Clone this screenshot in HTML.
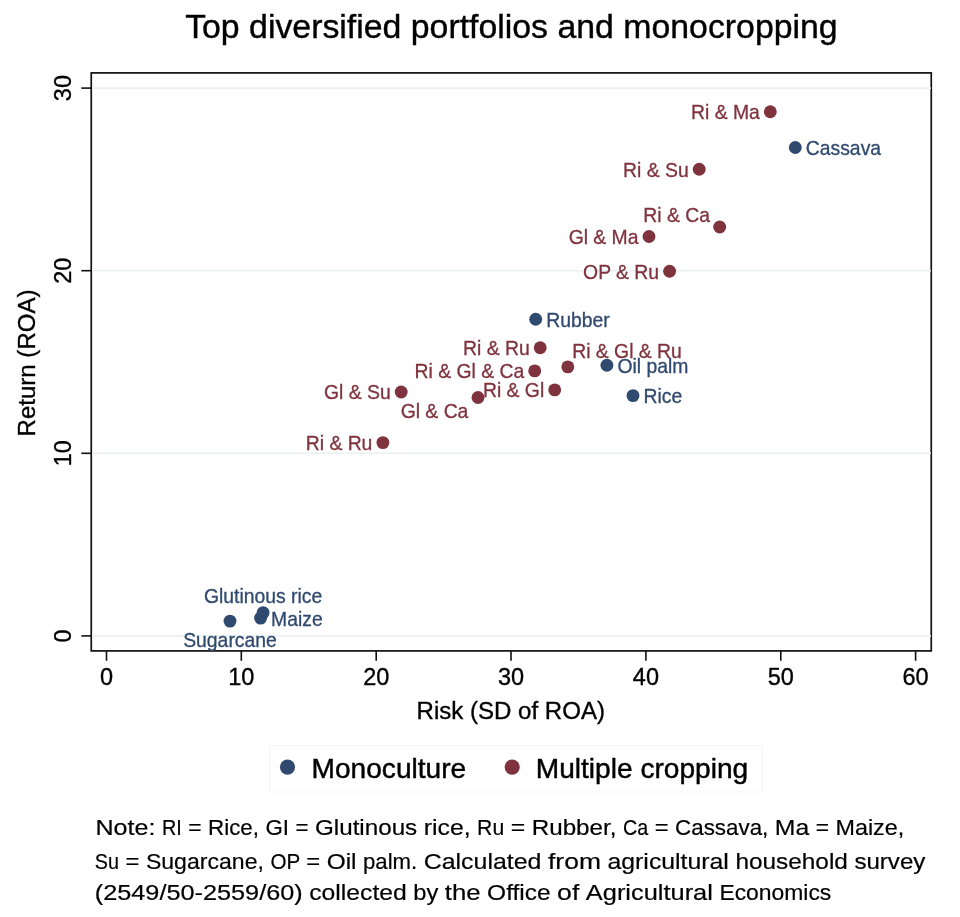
<!DOCTYPE html>
<html><head><meta charset="utf-8"><title>Top diversified portfolios and monocropping</title>
<style>
html,body{margin:0;padding:0;background:#fff}
svg{display:block}
text{font-family:"Liberation Sans",Arial,Helvetica,sans-serif}
</style></head><body>
<svg width="960" height="917" viewBox="0 0 960 917">
<rect width="960" height="917" fill="#fff"/>
<text x="511.4" y="38.3" text-anchor="middle" font-size="33.83" fill="#000" stroke="#000" stroke-width="0.4">Top diversified portfolios and monocropping</text>
<rect x="91.25" y="72.9" width="840" height="578" fill="none" stroke="#111" stroke-width="1.7"/>
<line x1="92.1" x2="931" y1="635.9" y2="635.9" stroke="#e9f0f2" stroke-width="1.6"/>
<line x1="92.1" x2="931" y1="453.3" y2="453.3" stroke="#e9f0f2" stroke-width="1.6"/>
<line x1="92.1" x2="931" y1="270.7" y2="270.7" stroke="#e9f0f2" stroke-width="1.6"/>
<line x1="92.1" x2="931" y1="88.1" y2="88.1" stroke="#e9f0f2" stroke-width="1.6"/>
<line x1="81.3" x2="91.3" y1="635.9" y2="635.9" stroke="#111" stroke-width="1.6"/>
<text transform="translate(71.3,635.9) rotate(-90)" text-anchor="middle" font-size="23.5" fill="#000" stroke="#000" stroke-width="0.35">0</text>
<line x1="81.3" x2="91.3" y1="453.3" y2="453.3" stroke="#111" stroke-width="1.6"/>
<text transform="translate(71.3,453.3) rotate(-90)" text-anchor="middle" font-size="23.5" fill="#000" stroke="#000" stroke-width="0.35">10</text>
<line x1="81.3" x2="91.3" y1="270.7" y2="270.7" stroke="#111" stroke-width="1.6"/>
<text transform="translate(71.3,270.7) rotate(-90)" text-anchor="middle" font-size="23.5" fill="#000" stroke="#000" stroke-width="0.35">20</text>
<line x1="81.3" x2="91.3" y1="88.1" y2="88.1" stroke="#111" stroke-width="1.6"/>
<text transform="translate(71.3,88.1) rotate(-90)" text-anchor="middle" font-size="23.5" fill="#000" stroke="#000" stroke-width="0.35">30</text>
<line x1="106.5" x2="106.5" y1="651" y2="660.8" stroke="#111" stroke-width="1.6"/>
<text x="106.5" y="684.8" text-anchor="middle" font-size="23.5" fill="#000" stroke="#000" stroke-width="0.35">0</text>
<line x1="241.3" x2="241.3" y1="651" y2="660.8" stroke="#111" stroke-width="1.6"/>
<text x="241.3" y="684.8" text-anchor="middle" font-size="23.5" fill="#000" stroke="#000" stroke-width="0.35">10</text>
<line x1="376.2" x2="376.2" y1="651" y2="660.8" stroke="#111" stroke-width="1.6"/>
<text x="376.2" y="684.8" text-anchor="middle" font-size="23.5" fill="#000" stroke="#000" stroke-width="0.35">20</text>
<line x1="511.0" x2="511.0" y1="651" y2="660.8" stroke="#111" stroke-width="1.6"/>
<text x="511.0" y="684.8" text-anchor="middle" font-size="23.5" fill="#000" stroke="#000" stroke-width="0.35">30</text>
<line x1="645.9" x2="645.9" y1="651" y2="660.8" stroke="#111" stroke-width="1.6"/>
<text x="645.9" y="684.8" text-anchor="middle" font-size="23.5" fill="#000" stroke="#000" stroke-width="0.35">40</text>
<line x1="780.8" x2="780.8" y1="651" y2="660.8" stroke="#111" stroke-width="1.6"/>
<text x="780.8" y="684.8" text-anchor="middle" font-size="23.5" fill="#000" stroke="#000" stroke-width="0.35">50</text>
<line x1="915.6" x2="915.6" y1="651" y2="660.8" stroke="#111" stroke-width="1.6"/>
<text x="915.6" y="684.8" text-anchor="middle" font-size="23.5" fill="#000" stroke="#000" stroke-width="0.35">60</text>
<text x="510.8" y="718.6" text-anchor="middle" font-size="24.05" fill="#000" stroke="#000" stroke-width="0.35">Risk (SD of ROA)</text>
<text transform="translate(34.6,363) rotate(-90)" text-anchor="middle" font-size="24.05" fill="#000" stroke="#000" stroke-width="0.35">Return (ROA)</text>
<g font-size="19.35" stroke-width="0.3">
<circle cx="795.3" cy="147.5" r="6.45" fill="#30496f" stroke="none"/><text x="805.8" y="154.9" fill="#30496f" stroke="#30496f">Cassava</text>
<circle cx="535.7" cy="319.3" r="6.45" fill="#30496f" stroke="none"/><text x="546.2" y="326.7" fill="#30496f" stroke="#30496f">Rubber</text>
<circle cx="606.9" cy="365.3" r="6.45" fill="#30496f" stroke="none"/><text x="617.4" y="372.7" fill="#30496f" stroke="#30496f">Oil palm</text>
<circle cx="633.0" cy="395.6" r="6.45" fill="#30496f" stroke="none"/><text x="643.5" y="403.0" fill="#30496f" stroke="#30496f">Rice</text>
<circle cx="260.6" cy="618.1" r="6.45" fill="#30496f" stroke="none"/><text x="271.1" y="625.5" fill="#30496f" stroke="#30496f">Maize</text>
<circle cx="263.1" cy="612.6" r="6.45" fill="#30496f" stroke="none"/><text x="263.1" y="602.6" text-anchor="middle" fill="#30496f" stroke="#30496f">Glutinous rice</text>
<circle cx="230.0" cy="621.1" r="6.45" fill="#30496f" stroke="none"/><text x="230.0" y="646.7" text-anchor="middle" fill="#30496f" stroke="#30496f">Sugarcane</text>
<circle cx="770.3" cy="111.8" r="6.45" fill="#7f333d" stroke="none"/><text x="759.8" y="119.2" text-anchor="end" fill="#7f333d" stroke="#7f333d">Ri &amp; Ma</text>
<circle cx="699.2" cy="169.3" r="6.45" fill="#7f333d" stroke="none"/><text x="688.7" y="176.7" text-anchor="end" fill="#7f333d" stroke="#7f333d">Ri &amp; Su</text>
<circle cx="719.7" cy="227.0" r="6.45" fill="#7f333d" stroke="none"/><text x="710.0" y="222.3" text-anchor="end" fill="#7f333d" stroke="#7f333d">Ri &amp; Ca</text>
<circle cx="649.0" cy="236.5" r="6.45" fill="#7f333d" stroke="none"/><text x="638.5" y="243.9" text-anchor="end" fill="#7f333d" stroke="#7f333d">Gl &amp; Ma</text>
<circle cx="669.6" cy="271.3" r="6.45" fill="#7f333d" stroke="none"/><text x="659.1" y="278.7" text-anchor="end" fill="#7f333d" stroke="#7f333d">OP &amp; Ru</text>
<circle cx="540.2" cy="347.8" r="6.45" fill="#7f333d" stroke="none"/><text x="529.7" y="355.2" text-anchor="end" fill="#7f333d" stroke="#7f333d">Ri &amp; Ru</text>
<circle cx="534.7" cy="370.9" r="6.45" fill="#7f333d" stroke="none"/><text x="524.2" y="378.3" text-anchor="end" fill="#7f333d" stroke="#7f333d">Ri &amp; Gl &amp; Ca</text>
<circle cx="567.8" cy="366.9" r="6.45" fill="#7f333d" stroke="none"/><text x="572.2" y="357.9" fill="#7f333d" stroke="#7f333d">Ri &amp; Gl &amp; Ru</text>
<circle cx="554.7" cy="389.9" r="6.45" fill="#7f333d" stroke="none"/><text x="544.2" y="397.3" text-anchor="end" fill="#7f333d" stroke="#7f333d">Ri &amp; Gl</text>
<circle cx="401.2" cy="392.0" r="6.45" fill="#7f333d" stroke="none"/><text x="390.7" y="399.4" text-anchor="end" fill="#7f333d" stroke="#7f333d">Gl &amp; Su</text>
<circle cx="478.0" cy="397.5" r="6.45" fill="#7f333d" stroke="none"/><text x="468.4" y="418.4" text-anchor="end" fill="#7f333d" stroke="#7f333d">Gl &amp; Ca</text>
<circle cx="382.9" cy="442.6" r="6.45" fill="#7f333d" stroke="none"/><text x="372.4" y="450.0" text-anchor="end" fill="#7f333d" stroke="#7f333d">Ri &amp; Ru</text>
</g>
<rect x="269.5" y="745.5" width="493" height="46.5" fill="#fff" stroke="#f3f5f5" stroke-width="1"/>
<circle cx="287.5" cy="767.1" r="7.6" fill="#30496f"/>
<circle cx="512.2" cy="767.1" r="7.6" fill="#7f333d"/>
<g font-size="28.1" fill="#000" stroke="#000" stroke-width="0.45">
<text x="311.6" y="777.8">Monoculture</text>
<text x="535.8" y="777.8">Multiple cropping</text>
</g>
<g font-size="22.8" fill="#000" stroke="#000" stroke-width="0.2">
<text y="835.4"><tspan x="95.4" textLength="60.0" lengthAdjust="spacingAndGlyphs">Note:</tspan> <tspan x="161.9" textLength="19.8" lengthAdjust="spacingAndGlyphs">RI</tspan> <tspan x="188.2" textLength="13.3" lengthAdjust="spacingAndGlyphs">=</tspan> <tspan x="208.0" textLength="51.0" lengthAdjust="spacingAndGlyphs">Rice,</tspan> <tspan x="265.5" textLength="23.5" lengthAdjust="spacingAndGlyphs">GI</tspan> <tspan x="295.5" textLength="13.0" lengthAdjust="spacingAndGlyphs">=</tspan> <tspan x="315.0" textLength="102.2" lengthAdjust="spacingAndGlyphs">Glutinous</tspan> <tspan x="423.7" textLength="46.9" lengthAdjust="spacingAndGlyphs">rice,</tspan> <tspan x="477.1" textLength="27.1" lengthAdjust="spacingAndGlyphs">Ru</tspan> <tspan x="510.7" textLength="14.5" lengthAdjust="spacingAndGlyphs">=</tspan> <tspan x="531.7" textLength="84.8" lengthAdjust="spacingAndGlyphs">Rubber,</tspan> <tspan x="623.0" textLength="25.2" lengthAdjust="spacingAndGlyphs">Ca</tspan> <tspan x="654.7" textLength="13.9" lengthAdjust="spacingAndGlyphs">=</tspan> <tspan x="675.1" textLength="93.2" lengthAdjust="spacingAndGlyphs">Cassava,</tspan> <tspan x="774.8" textLength="34.4" lengthAdjust="spacingAndGlyphs">Ma</tspan> <tspan x="815.7" textLength="13.3" lengthAdjust="spacingAndGlyphs">=</tspan> <tspan x="835.5" textLength="68.7" lengthAdjust="spacingAndGlyphs">Maize,</tspan></text>
<text y="868.8"><tspan x="94.8" textLength="24.2" lengthAdjust="spacingAndGlyphs">Su</tspan> <tspan x="125.5" textLength="13.9" lengthAdjust="spacingAndGlyphs">=</tspan> <tspan x="145.9" textLength="118.0" lengthAdjust="spacingAndGlyphs">Sugarcane,</tspan> <tspan x="270.4" textLength="29.4" lengthAdjust="spacingAndGlyphs">OP</tspan> <tspan x="306.3" textLength="13.9" lengthAdjust="spacingAndGlyphs">=</tspan> <tspan x="326.7" textLength="29.8" lengthAdjust="spacingAndGlyphs">Oil</tspan> <tspan x="363.0" textLength="54.2" lengthAdjust="spacingAndGlyphs">palm.</tspan> <tspan x="423.7" textLength="117.8" lengthAdjust="spacingAndGlyphs">Calculated</tspan> <tspan x="548.0" textLength="53.0" lengthAdjust="spacingAndGlyphs">from</tspan> <tspan x="607.5" textLength="121.4" lengthAdjust="spacingAndGlyphs">agricultural</tspan> <tspan x="735.4" textLength="112.5" lengthAdjust="spacingAndGlyphs">household</tspan> <tspan x="854.4" textLength="71.0" lengthAdjust="spacingAndGlyphs">survey</tspan></text>
<text y="900.3"><tspan x="94.8" textLength="207.9" lengthAdjust="spacingAndGlyphs">(2549/50-2559/60)</tspan> <tspan x="309.2" textLength="97.6" lengthAdjust="spacingAndGlyphs">collected</tspan> <tspan x="413.3" textLength="25.0" lengthAdjust="spacingAndGlyphs">by</tspan> <tspan x="444.8" textLength="35.8" lengthAdjust="spacingAndGlyphs">the</tspan> <tspan x="487.1" textLength="63.5" lengthAdjust="spacingAndGlyphs">Office</tspan> <tspan x="557.1" textLength="22.2" lengthAdjust="spacingAndGlyphs">of</tspan> <tspan x="585.8" textLength="127.1" lengthAdjust="spacingAndGlyphs">Agricultural</tspan> <tspan x="719.4" textLength="111.9" lengthAdjust="spacingAndGlyphs">Economics</tspan></text>
</g>
</svg>
</body></html>
